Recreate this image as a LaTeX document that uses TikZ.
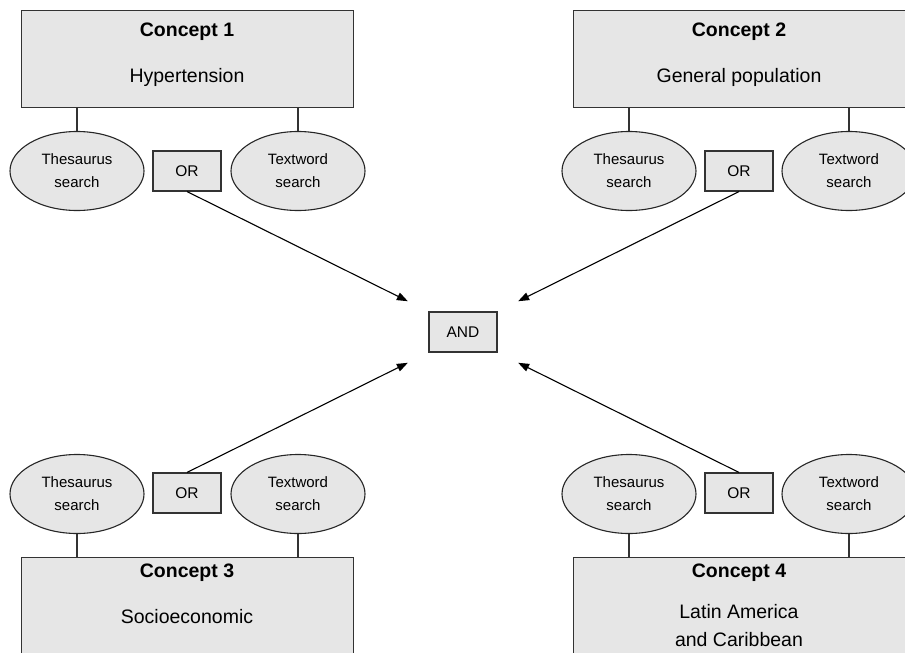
\documentclass[tikz,border=0pt]{standalone}
\usepackage{fontspec}
\setmainfont{Liberation Sans}
\usetikzlibrary{shapes.geometric,arrows.meta}
\definecolor{boxgray}{RGB}{230,230,230}
\tikzset{
  concept/.style={draw=black!80, line width=1.1pt, fill=boxgray, rectangle, inner sep=0pt, anchor=north west},
  searchell/.style={draw=black!85, line width=1.1pt, fill=boxgray, ellipse, inner sep=0pt,
     minimum width=134pt, minimum height=79pt, align=center, font=\fontsize{15}{23}\selectfont},
  opbox/.style={draw=black!80, line width=1.1pt, fill=boxgray, rectangle, inner sep=0pt,
     minimum width=68pt, minimum height=40pt, font=\fontsize{15.5}{18}\selectfont},
  titletext/.style={font=\fontsize{19.5}{22}\selectfont\bfseries},
  bodytext/.style={font=\fontsize{19.5}{22}\selectfont, align=center},
  link/.style={draw=black!80, line width=1.2pt},
  arrowline/.style={draw=black, line width=1.1pt, -{Triangle[length=11pt,width=8pt]}, shorten >=23pt}
}
\begin{document}
\begin{tikzpicture}[x=1pt,y=-1pt]
\useasboundingbox (0,0) rectangle (905,653);
\clip (0,0) rectangle (905,653);
% concept boxes
\node[concept, minimum width=332pt, minimum height=97pt] (c1) at (21,10) {};
\node[concept, minimum width=332pt, minimum height=97pt] (c2) at (573,10) {};
\node[concept, minimum width=332pt, minimum height=120pt] (c3) at (21,557) {};
\node[concept, minimum width=332pt, minimum height=120pt] (c4) at (573,557) {};
% texts in concept boxes
\node[titletext] (c1t) at (187,32) {Concept 1};
\node[bodytext] (c1b) at (187,77) {Hypertension};
\node[titletext] (c2t) at (739,32) {Concept 2};
\node[bodytext] (c2b) at (739,77) {General population};
\node[titletext] (c3t) at (187,573) {Concept 3};
\node[bodytext] (c3b) at (187,617) {Socioeconomic};
\node[titletext] (c4t) at (739,573) {Concept 4};
\node[bodytext] (c4b) at (739,612) {Latin America};
\node[bodytext] (c4c) at (739,640) {and Caribbean};
% ellipses
\node[searchell] (t1) at (77,171) {Thesaurus\\search};
\node[searchell] (w1) at (298,171) {Textword\\search};
\node[searchell] (t2) at (629,171) {Thesaurus\\search};
\node[searchell] (w2) at (849,171) {Textword\\search};
\node[searchell] (t3) at (77,494) {Thesaurus\\search};
\node[searchell] (w3) at (298,494) {Textword\\search};
\node[searchell] (t4) at (629,494) {Thesaurus\\search};
\node[searchell] (w4) at (849,494) {Textword\\search};
% OR boxes
\node[opbox] (or1) at (187,171) {OR};
\node[opbox] (or2) at (739,171) {OR};
\node[opbox] (or3) at (187,493) {OR};
\node[opbox] (or4) at (739,493) {OR};
% AND
\node[opbox] (and) at (463,332) {AND};
% links
\draw[link] (t1.north) -- (t1.north |- c1.south);
\draw[link] (w1.north) -- (w1.north |- c1.south);
\draw[link] (t2.north) -- (t2.north |- c2.south);
\draw[link] (w2.north) -- (w2.north |- c2.south);
\draw[link] (t3.south) -- (t3.south |- c3.north);
\draw[link] (w3.south) -- (w3.south |- c3.north);
\draw[link] (t4.south) -- (t4.south |- c4.north);
\draw[link] (w4.south) -- (w4.south |- c4.north);
% arrows
\draw[arrowline] (or1.south) -- (and.north west);
\draw[arrowline] (or2.south) -- (and.north east);
\draw[arrowline] (or3.north) -- (and.south west);
\draw[arrowline] (or4.north) -- (and.south east);
\end{tikzpicture}
\end{document}
